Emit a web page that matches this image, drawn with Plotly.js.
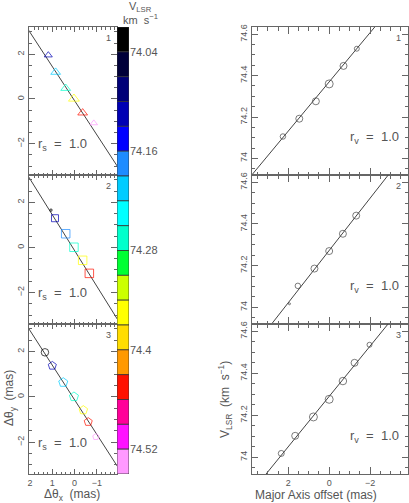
<!DOCTYPE html>
<html>
<head>
<meta charset="utf-8">
<script src="https://cdn.plot.ly/plotly-3.0.1.min.js"></script>
<style>
  html, body { margin: 0; padding: 0; background: #fff; }
  #grafico { width: 409px; height: 503px; }
</style>
</head>
<body>
<div id="grafico"></div>
<script>
// colour levels of the velocity bar (top = low velocity)
var vColors = ['#000000', '#00003a', '#000078', '#0000b4', '#0000ff', '#1e8cff',
               '#00ccff', '#00ffff', '#00ffcc', '#00ff33', '#ccff00', '#ffff00',
               '#ffdd00', '#ff9900', '#ff1100', '#ff0099', '#ff11ff', '#ff99ff'];
var vMin = 74.01;
var vStep = 0.03;
var vTicks = [74.04, 74.16, 74.28, 74.4, 74.52];

// panel 1 (triangles)
var p1Dx = [1.18, 0.85, 0.40, 0.03, -0.36, -0.86];
var p1Dy = [1.96, 1.20, 0.48, 0.01, -0.62, -1.08];
var p1Off = [2.26, 1.46, 0.65, 0.0, -0.70, -1.35];
var p1V = [74.106, 74.192, 74.276, 74.36, 74.447, 74.53];
var p1Size = [5.5, 7, 7, 8, 7, 5];

// panel 2 (squares)
var p2Dx = [1.06, 0.88, 0.40, 0.03, -0.36, -0.66];
var p2Dy = [1.66, 1.30, 0.61, 0.01, -0.57, -1.15];
var p2Off = [1.94, 1.53, 0.72, 0.0, -0.67, -1.32];
var p2V = [74.017, 74.103, 74.186, 74.27, 74.353, 74.44];
var p2Size = [2, 5.5, 7, 7, 7, 7];

// panel 3 (pentagons)
var p3Dx = [1.33, 1.00, 0.51, 0.03, -0.39, -0.61, -0.95];
var p3Dy = [1.97, 1.38, 0.64, 0.01, -0.58, -1.10, -1.76];
var p3Off = [2.34, 1.66, 0.77, 0.0, -0.67, -1.24, -1.97];
var p3V = [74.018, 74.102, 74.192, 74.276, 74.363, 74.45, 74.536];
var p3Size = [6, 7, 8, 8, 7.5, 7, 5];

// fitted lines: sky = [slope, intercept], velocity = [v0, slope]
var skyFit = [[1.53, -0.08], [1.59, -0.14], [1.53, -0.13]];
var velFit = [[74.37, -0.119], [74.273, -0.1255], [74.29, -0.12]];

function initGrafico() {
    var cinza = '#666';
    var fonte = 'Liberation Sans, Arial, sans-serif';

    // discrete colour scale
    var escala = [];
    vColors.forEach(function (c, i) {
        escala.push([i / vColors.length, c]);
        escala.push([(i + 1) / vColors.length, c]);
    });
    var vMax = vMin + vStep * vColors.length;

    var paineis = [
        {dx: p1Dx, dy: p1Dy, off: p1Off, v: p1V, size: p1Size, sym: p1Dx.map(function () { return 'triangle-up-open'; })},
        {dx: p2Dx, dy: p2Dy, off: p2Off, v: p2V, size: p2Size, sym: p2Dx.map(function () { return 'square-open'; })},
        {dx: p3Dx, dy: p3Dy, off: p3Off, v: p3V, size: p3Size, sym: p3Dx.map(function (d, i) { return i === 0 ? 'circle-open' : 'pentagon-open'; })}
    ];

    var data = [];
    paineis.forEach(function (p, k) {
        var n = k + 1;
        var xl = 'x' + (n === 1 ? '' : n), yl = 'y' + (n === 1 ? '' : n);
        var xr = 'x' + (n + 3), yr = 'y' + (n + 3);
        var sf = skyFit[k], vf = velFit[k];
        var ext = [-6, 6];
        // sky fit line
        data.push({x: ext, y: ext.map(function (x) { return sf[0] * x + sf[1]; }),
            xaxis: xl, yaxis: yl, mode: 'lines', line: {color: '#444', width: 1}, hoverinfo: 'skip'});
        // sky positions
        data.push({x: p.dx, y: p.dy, xaxis: xl, yaxis: yl, mode: 'markers',
            marker: {symbol: p.sym, size: p.size.map(function (s) { return s > 3 ? s + 1.5 : s; }),
                color: p.v, colorscale: escala, cmin: vMin, cmax: vMax, opacity: 0.7, line: {width: 1}}});
        // velocity fit line
        data.push({x: ext, y: ext.map(function (x) { return vf[0] + vf[1] * x; }),
            xaxis: xr, yaxis: yr, mode: 'lines', line: {color: '#444', width: 1}, hoverinfo: 'skip'});
        // velocity vs major axis offset
        data.push({x: p.off, y: p.v, xaxis: xr, yaxis: yr, mode: 'markers',
            marker: {symbol: 'circle-open', size: p.size, color: '#444', line: {width: 1}}});
    });

    // colour bar as stacked cells
    data.push({type: 'bar', x: vColors.map(function () { return 0; }),
        y: vColors.map(function () { return vStep; }),
        base: vColors.map(function (c, i) { return vMin + i * vStep; }),
        width: 1, xaxis: 'x7', yaxis: 'y7',
        marker: {color: vColors, line: {color: '#333', width: 0.8}}, hoverinfo: 'skip'});

    var yDom = [[1 - 175 / 503, 1 - 27 / 503], [1 - 324 / 503, 1 - 175 / 503], [1 - 474 / 503, 1 - 324 / 503]];
    var xLeft = [29 / 409, 117 / 409];
    var xRight = [252 / 409, 408 / 409];

    var eixoBase = {showline: true, linecolor: cinza, linewidth: 1, mirror: 'ticks', ticks: 'inside',
        tickcolor: cinza, showgrid: false, zeroline: false, tickfont: {size: 9, color: '#555', family: fonte}};

    function eixo(extra) {
        return Object.assign({}, eixoBase, extra);
    }

    var layout = {
        width: 409, height: 503,
        margin: {l: 0, r: 0, t: 0, b: 0},
        showlegend: false,
        paper_bgcolor: '#fff', plot_bgcolor: 'rgba(0,0,0,0)',
        barmode: 'overlay',
        font: {family: fonte, color: '#555'},
        annotations: []
    };

    for (var k = 0; k < 3; k++) {
        var n = k + 1, s = n === 1 ? '' : n;
        var ult = k === 2;
        layout['xaxis' + s] = eixo({domain: xLeft, anchor: 'y' + s, range: [2.045, -1.9], dtick: 1, tick0: 0,
            ticklen: 5, minor: {ticks: 'inside', ticklen: 2.5, dtick: 0.2, tickcolor: cinza},
            showticklabels: ult});
        layout['yaxis' + s] = eixo({domain: yDom[k], anchor: 'x' + s, range: [-3.4, 3.22], dtick: 2, tick0: 0,
            ticklen: 6, tickangle: -90, minor: {ticks: 'inside', ticklen: 3, dtick: 0.5, tickcolor: cinza}});
        layout['xaxis' + (n + 3)] = eixo({domain: xRight, anchor: 'y' + (n + 3), range: [3.77, -3.85], dtick: 2, tick0: 0,
            ticklen: 7, minor: {ticks: 'inside', ticklen: 3.5, dtick: 0.5, tickcolor: cinza},
            showticklabels: ult});
        layout['yaxis' + (n + 3)] = eixo({domain: yDom[k], anchor: 'x' + (n + 3), range: [73.92, 74.635], dtick: 0.2, tick0: 74,
            ticklen: 6, tickangle: -90, minor: {ticks: 'inside', ticklen: 3, dtick: 0.05, tickcolor: cinza}});

        // panel numbers
        layout.annotations.push({xref: 'x' + s + ' domain', yref: 'y' + s + ' domain', x: 0.9, y: 0.925,
            xanchor: 'center', yanchor: 'middle', text: String(n), showarrow: false, font: {size: 9, color: '#555'}});
        layout.annotations.push({xref: 'x' + (n + 3) + ' domain', yref: 'y' + (n + 3) + ' domain', x: 0.94, y: 0.925,
            xanchor: 'center', yanchor: 'middle', text: String(n), showarrow: false, font: {size: 9, color: '#555'}});
        // r values
        layout.annotations.push({xref: 'x' + s, yref: 'y' + s, x: 1.72, y: -2.05, xanchor: 'left', yanchor: 'middle',
            text: 'r<sub>s</sub>  =  1.0', showarrow: false, font: {size: 13, color: '#555'}});
        layout.annotations.push({xref: 'x' + (n + 3), yref: 'y' + (n + 3), x: -0.93, y: 74.1, xanchor: 'left', yanchor: 'middle',
            text: 'r<sub>v</sub>  =  1.0', showarrow: false, font: {size: 13, color: '#555'}});
    }

    layout.xaxis7 = {domain: [117 / 409, 129 / 409], anchor: 'y7', range: [-0.5, 0.5], visible: false};
    layout.yaxis7 = {domain: [1 - 474 / 503, 1 - 27 / 503], anchor: 'x7', side: 'right',
        range: [vMax, vMin], tickvals: vTicks, ticktext: ['74.04', '74.16', '74.28', '74.4', '74.52'],
        ticks: '', showline: false, showgrid: false, zeroline: false,
        tickfont: {size: 11, color: '#555', family: fonte}};

    // axis titles and colour bar title
    var tit = {showarrow: false, xref: 'paper', yref: 'paper', xanchor: 'center', yanchor: 'middle',
        font: {size: 12, color: '#555'}};
    layout.annotations.push(Object.assign({}, tit, {x: 140 / 409, y: 1 - 7 / 503, text: 'V<sub>LSR</sub>', font: {size: 11, color: '#555'}}));
    layout.annotations.push(Object.assign({}, tit, {x: 140 / 409, y: 1 - 19 / 503, text: 'km  s<sup>−1</sup>', font: {size: 11, color: '#555'}}));
    layout.annotations.push(Object.assign({}, tit, {x: 72 / 409, y: 1 - 495 / 503, text: 'Δθ<sub>x</sub>  (mas)'}));
    layout.annotations.push(Object.assign({}, tit, {x: 10 / 409, y: 1 - 398 / 503, textangle: -90, text: 'Δθ<sub>y</sub>  (mas)'}));
    layout.annotations.push(Object.assign({}, tit, {x: 316 / 409, y: 1 - 495 / 503, text: 'Major Axis offset (mas)'}));
    layout.annotations.push(Object.assign({}, tit, {x: 225 / 409, y: 1 - 400 / 503, textangle: -90, text: 'V<sub>LSR</sub>  (km  s<sup>−1</sup>)'}));

    Plotly.newPlot('grafico', data, layout, {staticPlot: true});
}

document.addEventListener('DOMContentLoaded', function () {
    initGrafico();
});
</script>
</body>
</html>
